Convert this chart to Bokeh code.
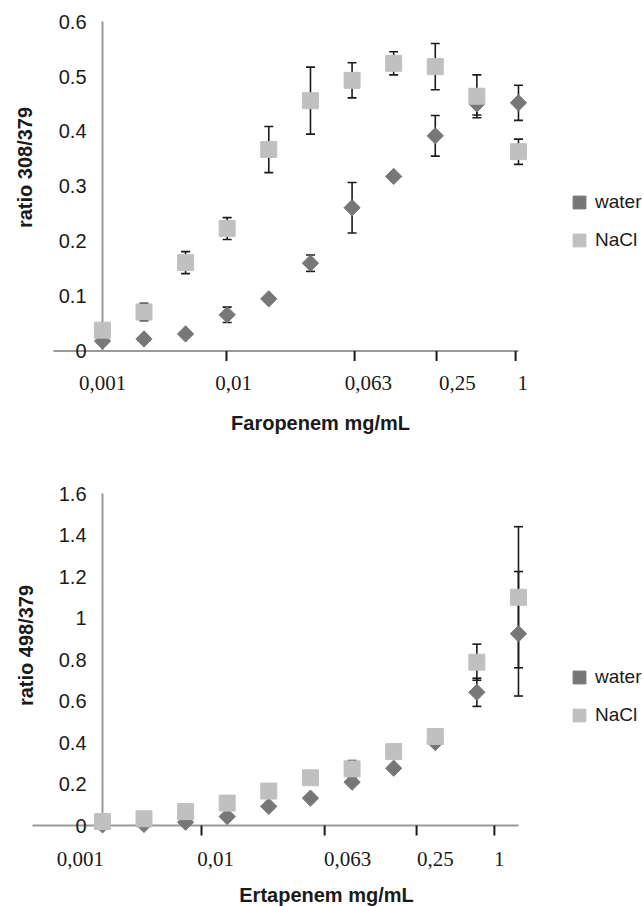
import math
from bokeh.plotting import figure
from bokeh.models import (ColumnDataSource, Whisker, TeeHead, Legend, LegendItem, Range1d)
from bokeh.core.properties import value
from bokeh.layouts import column
from bokeh.embed import file_html
from bokeh.resources import INLINE

# ---------------- data ----------------
conc = [0.000977, 0.00195, 0.0039, 0.0078, 0.0156, 0.03125, 0.0625, 0.125, 0.25, 0.5, 1.0]

faro_water = [0.018, 0.022, 0.031, 0.066, 0.095, 0.160, 0.261, 0.318, 0.392, 0.450, 0.452]
faro_water_err = [0, 0, 0, 0.014, 0.004, 0.015, 0.046, 0.004, 0.037, 0.020, 0.032]
faro_nacl = [0.038, 0.071, 0.161, 0.223, 0.367, 0.456, 0.493, 0.524, 0.518, 0.464, 0.363]
faro_nacl_err = [0, 0.016, 0.020, 0.020, 0.042, 0.061, 0.032, 0.021, 0.042, 0.039, 0.023]

erta_water = [0.003, 0.005, 0.016, 0.043, 0.092, 0.132, 0.209, 0.276, 0.400, 0.642, 0.924]
erta_water_err = [0, 0, 0, 0, 0, 0, 0, 0, 0, 0.068, 0.300]
erta_nacl = [0.019, 0.032, 0.067, 0.108, 0.166, 0.230, 0.273, 0.357, 0.429, 0.787, 1.100]
erta_nacl_err = [0, 0, 0, 0, 0, 0, 0.040, 0, 0, 0.087, 0.340]

x_labels = ["0,001", "0,01", "0,063", "0,25", "1"]
faro_y_ticks = [0, 0.1, 0.2, 0.3, 0.4, 0.5, 0.6]
faro_y_labels = ["0", "0.1", "0.2", "0.3", "0.4", "0.5", "0.6"]
erta_y_ticks = [0, 0.2, 0.4, 0.6, 0.8, 1.0, 1.2, 1.4, 1.6]
erta_y_labels = ["0", "0.2", "0.4", "0.6", "0.8", "1", "1.2", "1.4", "1.6"]

# ---------------- style / layout ----------------
WATER_C = "#777777"
NACL_C = "#c0c0c0"
AXIS_C = "#9a9a9a"
TEXT_C = "#1a1a1a"
SANS = "Liberation Sans"
SERIF = "Liberation Serif"
W = 644
ORIGIN = 0             # page offset of the figures
PX_OCT = 41.6          # pixels per doubling step
X0_PAGE = 102          # page x of the first concentration


def oct_of_page(px):
    return (px - X0_PAGE) / PX_OCT


def xpos(o):
    return conc[0] * 2 ** o


def make_chart(title_y, title_x, water, water_err, nacl, nacl_err, y_ticks, y_labels,
               height, fig_top_page, zero_page, px_unit, axis_left_page,
               label_oct, tick_oct, label_dy, title_page, ytitle_page, legend_box):
    fig_bottom_page = fig_top_page + height
    y_end = (zero_page - fig_top_page) / px_unit
    y_start = -(fig_bottom_page - zero_page) / px_unit
    p = figure(width=W, height=height, x_axis_type="log",
               x_range=Range1d(xpos(oct_of_page(ORIGIN)), xpos(oct_of_page(ORIGIN + W))),
               y_range=Range1d(y_start, y_end),
               output_backend="svg", toolbar_location=None,
               min_border_left=0, min_border_right=0, min_border_top=0, min_border_bottom=0)
    p.outline_line_color = None
    p.grid.visible = False
    p.axis.visible = False
    p.background_fill_color = "white"

    # axis lines
    p.segment(x0=[xpos(oct_of_page(axis_left_page))], y0=[0], x1=[conc[-1]], y1=[0],
              line_color=AXIS_C, line_width=2, level="underlay")
    p.segment(x0=[conc[0]], y0=[0], x1=[conc[0]], y1=[y_ticks[-1]],
              line_color=AXIS_C, line_width=2, level="underlay")

    # x tick marks (10 px long, pointing down)
    tick_len = 10.0 / px_unit
    tx = [xpos(o) for o in tick_oct]
    p.segment(x0=tx, y0=[0] * len(tx), x1=tx, y1=[-tick_len] * len(tx),
              line_color=TEXT_C, line_width=2)

    # x tick labels
    p.text(x=[xpos(o) for o in label_oct], y=[0] * len(label_oct), text=x_labels,
           y_offset=label_dy, text_align="center", text_baseline="middle",
           text_font=value(SERIF), text_font_size="21px", text_color=TEXT_C)

    # y tick labels
    p.text(x=[conc[0]] * len(y_ticks), y=y_ticks, text=y_labels, x_offset=-16,
           text_align="right", text_baseline="middle",
           text_font=value(SANS), text_font_size="20px", text_color=TEXT_C)

    # x title
    tx_, ty_ = title_page
    p.text(x=[xpos(oct_of_page(tx_))], y=[(zero_page - ty_) / px_unit], text=[title_x],
           text_align="center", text_baseline="middle",
           text_font=value(SANS), text_font_style="bold", text_font_size="20px",
           text_color=TEXT_C)
    # y title
    yx_, yy_ = ytitle_page
    p.text(x=[xpos(oct_of_page(yx_))], y=[(zero_page - yy_) / px_unit], text=[title_y],
           angle=math.pi / 2, text_align="center", text_baseline="middle",
           text_font=value(SANS), text_font_style="bold", text_font_size="20px",
           text_color=TEXT_C)

    # error bars
    for vals, errs in ((water, water_err), (nacl, nacl_err)):
        idx = [i for i, e in enumerate(errs) if e > 0]
        src = ColumnDataSource(dict(x=[conc[i] for i in idx],
                                    upper=[vals[i] + errs[i] for i in idx],
                                    lower=[vals[i] - errs[i] for i in idx]))
        wk = Whisker(source=src, base="x", upper="upper", lower="lower",
                     line_color=TEXT_C, line_width=1.6,
                     upper_head=TeeHead(size=9, line_color=TEXT_C, line_width=1.6),
                     lower_head=TeeHead(size=9, line_color=TEXT_C, line_width=1.6))
        wk.level = "underlay"
        p.add_layout(wk)

    rw = p.scatter(conc, water, marker="square", angle=math.pi / 4, size=11.5,
                   fill_color=WATER_C, line_color=WATER_C)
    rn = p.scatter(conc, nacl, marker="square", size=16,
                   fill_color=NACL_C, line_color=NACL_C)

    # legend (frame == whole figure); legend_box = (left, bottom) in page px
    glyph = 32
    lx, lb = legend_box
    lg = Legend(items=[LegendItem(label="water", renderers=[rw]),
                       LegendItem(label="NaCl", renderers=[rn])],
                location=(lx - ORIGIN, fig_bottom_page - lb),
                glyph_width=glyph, glyph_height=glyph, label_standoff=0,
                padding=0, margin=0, spacing=6,
                border_line_color=None, background_fill_alpha=0,
                label_text_font=SANS, label_text_font_size="19px",
                label_text_color=TEXT_C)
    p.add_layout(lg)
    return p


top_p = make_chart("ratio 308/379", "Faropenem mg/mL",
                   faro_water, faro_water_err, faro_nacl, faro_nacl_err,
                   faro_y_ticks, faro_y_labels,
                   448, 0, 350.5, 549.0, 53,
                   [0, 3.15, 6.39, 8.53, 10.1], [2.98, 6.06, 8.03, 9.93],
                   32, (320, 422), (24, 167),
                   (563, 256))

bot_p = make_chart("ratio 498/379", "Ertapenem mg/mL",
                   erta_water, erta_water_err, erta_nacl, erta_nacl_err,
                   erta_y_ticks, erta_y_labels,
                   458, 448, 825, 207.5, 32,
                   [-0.53, 2.72, 5.89, 8.0, 9.54], [2.38, 5.34, 7.55, 9.42],
                   33, (326, 894), (25, 645),
                   (563, 731))

layout = column(top_p, bot_p, spacing=0)
open("out.html", "w").write(file_html(layout, INLINE))
